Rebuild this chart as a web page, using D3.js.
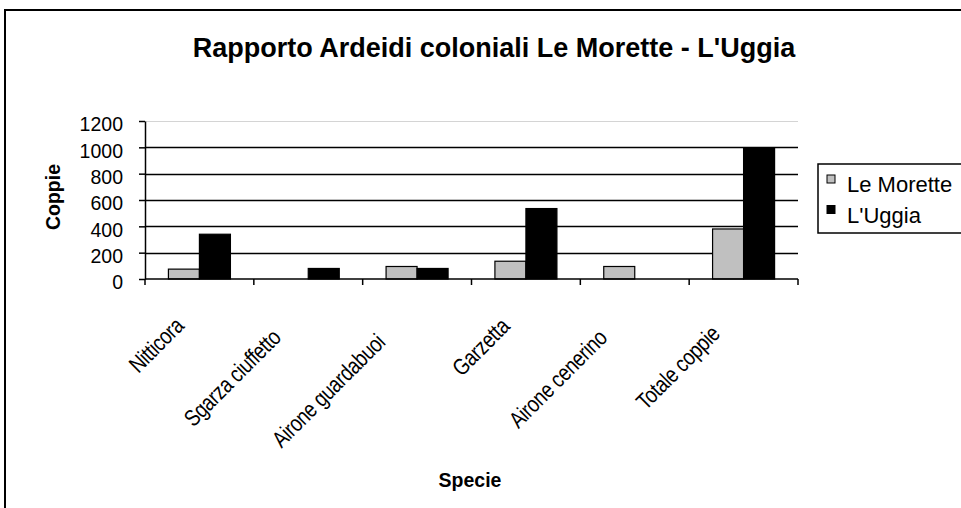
<!DOCTYPE html>
<html>
<head>
<meta charset="utf-8">
<script src="https://cdn.jsdelivr.net/npm/d3@7"></script>
<style>
  html, body { margin: 0; padding: 0; background: #fff; overflow: hidden; }
  svg { display: block; font-family: "Liberation Sans", Arial, sans-serif; }
</style>
</head>
<body>
<div id="chart-area"></div>
<script>
// dati
const categories = ['Nitticora', 'Sgarza ciuffetto', 'Airone guardabuoi', 'Garzetta', 'Airone cenerino', 'Totale coppie'];
const seriesNames = ['Le Morette', "L'Uggia"];
const leMorette = [75, 0, 95, 135, 95, 380];
const lUggia = [340, 80, 80, 535, 0, 995];
const yTicks = [0, 200, 400, 600, 800, 1000, 1200];
const seriesColors = ['#c0c0c0', '#000000'];

const width = 961, height = 508;

const svg = d3.select('#chart-area').append('svg')
    .attr('width', width)
    .attr('height', height);

// bordo esterno del grafico
svg.append('rect')
    .attr('x', 5).attr('y', 10)
    .attr('width', 1000).attr('height', 600)
    .attr('fill', '#fff')
    .attr('stroke', '#000')
    .attr('stroke-width', 2);

// titolo
svg.append('text')
    .attr('x', 494)
    .attr('y', 57)
    .attr('text-anchor', 'middle')
    .attr('font-size', '27px')
    .attr('font-weight', 'bold')
    .text("Rapporto Ardeidi coloniali Le Morette - L'Uggia");

const plot = { left: 145, right: 798, top: 121, bottom: 279 };

const x0 = d3.scaleBand()
    .domain(categories)
    .range([plot.left, plot.right])
    .padding(0);

const x1 = d3.scaleBand()
    .domain(seriesNames)
    .range([0, x0.bandwidth()])
    .paddingInner(0)
    .paddingOuter(0.755);

const y = d3.scaleLinear()
    .domain([0, 1200])
    .range([plot.bottom, plot.top]);

// linee della griglia
svg.append('g')
    .selectAll('line')
    .data(yTicks.filter(d => d > 0))
    .enter()
    .append('line')
    .attr('x1', plot.left)
    .attr('x2', plot.right)
    .attr('y1', d => Math.round(y(d)) + 0.5)
    .attr('y2', d => Math.round(y(d)) + 0.5)
    .attr('stroke', d => d === 1200 ? '#d4d4d4' : '#000')
    .attr('stroke-width', d => d === 1200 ? 1 : 1.5);

// barre
const rows = categories.map((c, i) => ({ cat: c, values: [leMorette[i], lUggia[i]] }));

const groups = svg.append('g')
    .selectAll('g')
    .data(rows)
    .enter()
    .append('g')
    .attr('transform', d => `translate(${x0(d.cat)},0)`);

groups.selectAll('rect')
    .data(d => d.values.map((v, j) => ({ name: seriesNames[j], value: v, j: j })))
    .enter()
    .filter(d => d.value > 0)
    .append('rect')
    .attr('x', d => x1(d.name))
    .attr('y', d => y(d.value))
    .attr('width', x1.bandwidth())
    .attr('height', d => y(0) - y(d.value))
    .attr('fill', d => seriesColors[d.j])
    .attr('stroke', '#000')
    .attr('stroke-width', 1.2);

// asse Y
const yAxis = svg.append('g')
    .attr('transform', `translate(${plot.left},0)`)
    .call(d3.axisLeft(y)
        .tickValues(yTicks)
        .tickFormat(d => String(d))
        .tickSizeInner(6)
        .tickSizeOuter(0)
        .tickPadding(16));

yAxis.select('.domain').attr('stroke-width', 1.5);
yAxis.selectAll('.tick line').attr('stroke-width', 1.5);
yAxis.selectAll('text')
    .attr('font-size', '19.5px')
    .attr('font-family', '"Liberation Sans", Arial, sans-serif')
    .attr('dy', '0.5em')
    .attr('fill', '#000');

// asse X (tacche sui confini delle categorie)
const xAxis = svg.append('g');
xAxis.append('line')
    .attr('x1', plot.left).attr('x2', plot.right)
    .attr('y1', plot.bottom).attr('y2', plot.bottom)
    .attr('stroke', '#000')
    .attr('stroke-width', 1.5);

const boundaries = categories.map(c => x0(c)).concat([plot.right]);
xAxis.selectAll('.xtick')
    .data(boundaries)
    .enter()
    .append('line')
    .attr('class', 'xtick')
    .attr('x1', d => d).attr('x2', d => d)
    .attr('y1', plot.bottom).attr('y2', plot.bottom + 6)
    .attr('stroke', '#000')
    .attr('stroke-width', 1.5);

// etichette ruotate delle categorie (testo compresso come in Excel)
const squeeze = 0.82;
const labels = xAxis.selectAll('.xlabel')
    .data(categories)
    .enter()
    .append('text')
    .attr('class', 'xlabel')
    .attr('font-size', '23px')
    .attr('letter-spacing', '-0.4px')
    .attr('text-anchor', 'end')
    .text(d => d);

labels.each(function(d) {
    const len = this.getComputedTextLength() * squeeze;
    const c = x0(d) + x0.bandwidth() / 2;
    const shift = 0.2 * (len - 75);
    const px = c - 16 - shift;
    const py = 329 + shift;
    d3.select(this).attr('transform', `translate(${px},${py}) rotate(-45) scale(${squeeze},1)`);
});

// titoli degli assi
svg.append('text')
    .attr('transform', 'translate(60,197) rotate(-90)')
    .attr('text-anchor', 'middle')
    .attr('font-size', '19.5px')
    .attr('font-weight', 'bold')
    .text('Coppie');

svg.append('text')
    .attr('x', 470)
    .attr('y', 487)
    .attr('text-anchor', 'middle')
    .attr('font-size', '19.5px')
    .attr('font-weight', 'bold')
    .text('Specie');

// legenda
const legend = svg.append('g');
legend.append('rect')
    .attr('x', 818).attr('y', 164)
    .attr('width', 200).attr('height', 69)
    .attr('fill', '#fff')
    .attr('stroke', '#000')
    .attr('stroke-width', 1.5);

const items = legend.selectAll('.item')
    .data(seriesNames)
    .enter()
    .append('g')
    .attr('transform', (d, i) => `translate(0,${i * 30.5})`);

items.append('rect')
    .attr('x', 827).attr('y', 175)
    .attr('width', 8).attr('height', 8)
    .attr('fill', (d, i) => seriesColors[i])
    .attr('stroke', '#000')
    .attr('stroke-width', 1);

items.append('text')
    .attr('x', 847).attr('y', 192)
    .attr('font-size', '22px')
    .text(d => d);
</script>
</body>
</html>
